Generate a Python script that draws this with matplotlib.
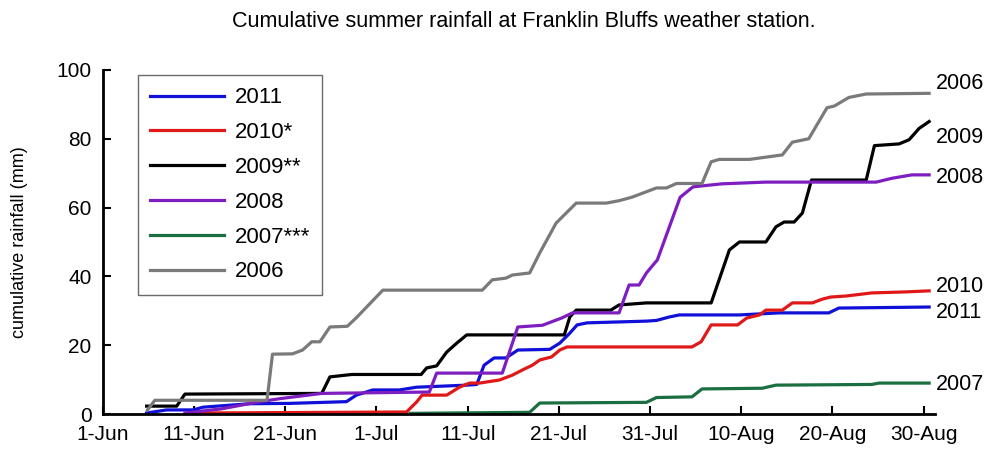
import matplotlib.pyplot as plt

plt.rcParams['font.family'] = ['Liberation Sans', 'DejaVu Sans']

# days since 1-Jun, cumulative rainfall (mm)
day_2011 = [4.8, 7.0, 9.9, 11.0, 16.1, 20.5, 26.7, 27.8, 29.6, 32.5, 34.4, 39.9, 41.0, 41.8, 42.9,
            44.2, 45.5, 49.0, 50.1, 51.2, 52.0, 53.1, 59.6, 60.7, 62.1, 63.2, 69.8, 74.2, 79.6, 80.7, 90.6]
rain_2011 = [0.3, 1.2, 1.2, 2.0, 3.0, 3.1, 3.6, 5.5, 7.0, 7.0, 7.8, 8.4, 8.6, 14.2, 16.3,
             16.3, 18.6, 18.8, 20.6, 23.5, 25.9, 26.5, 27.0, 27.2, 28.2, 28.8, 28.8, 29.4, 29.4, 30.8, 31.1]

day_2010 = [10.3, 33.3, 34.4, 35.0, 37.7, 39.1, 40.2, 41.3, 43.5, 44.9, 46.0, 47.1, 47.9, 49.2, 50.1,
            50.9, 64.6, 65.6, 66.7, 69.6, 70.6, 72.0, 72.7, 74.5, 75.6, 77.8, 78.9, 79.8, 81.5, 84.3, 88.1, 90.6]
rain_2010 = [0.3, 0.6, 3.5, 5.5, 5.5, 7.8, 9.0, 9.0, 9.9, 11.3, 12.8, 14.2, 15.7, 16.6, 18.6,
             19.5, 19.5, 21.0, 25.9, 25.9, 27.9, 28.8, 30.2, 30.2, 32.3, 32.3, 33.4, 34.0, 34.3, 35.2, 35.5, 35.8]

day_2009 = [4.8, 8.1, 9.0, 24.0, 24.9, 27.3, 34.9, 35.5, 36.6, 37.7, 38.8, 39.9, 50.6, 51.2, 51.9,
            55.7, 56.6, 59.6, 66.7, 68.7, 69.8, 72.7, 73.8, 74.7, 75.8, 76.7, 77.7, 83.7, 84.6, 87.3, 88.4, 89.5, 90.6]
rain_2009 = [2.3, 2.3, 5.8, 6.0, 10.8, 11.5, 11.5, 13.4, 14.0, 18.0, 20.6, 23.0, 23.0, 28.2, 30.2,
             30.2, 31.7, 32.3, 32.3, 47.7, 50.0, 50.0, 54.4, 55.8, 55.8, 58.4, 68.0, 68.0, 78.0, 78.5, 79.7, 83.0, 85.0]

day_2008 = [9.0, 13.0, 17.0, 19.5, 24.0, 35.8, 36.6, 43.8, 45.5, 48.2, 50.3, 51.5, 56.6, 57.7, 58.8,
            59.6, 60.8, 63.3, 64.7, 65.7, 67.9, 72.7, 84.8, 86.5, 88.7, 90.6]
rain_2008 = [0.3, 1.5, 3.5, 4.5, 6.0, 6.4, 11.9, 11.9, 25.3, 25.8, 27.9, 29.4, 29.4, 37.5, 37.5,
             41.0, 44.8, 63.0, 66.0, 66.3, 66.9, 67.4, 67.4, 68.5, 69.5, 69.5]

day_2007 = [33.7, 46.8, 47.9, 59.6, 60.7, 64.6, 65.7, 72.3, 73.8, 84.3, 85.1, 90.6]
rain_2007 = [0.2, 0.5, 3.2, 3.4, 4.8, 5.0, 7.3, 7.5, 8.4, 8.6, 9.0, 9.0]

day_2006 = [4.9, 5.7, 18.0, 18.6, 20.8, 21.9, 22.9, 23.8, 24.9, 26.8, 27.8, 30.7, 41.6, 42.7, 44.2,
            44.9, 46.8, 47.9, 49.7, 50.8, 51.9, 55.2, 56.6, 58.0, 60.7, 61.8, 62.9, 65.7, 66.7, 67.6,
            70.9, 74.5, 75.6, 77.4, 79.4, 80.2, 81.8, 83.7, 90.6]
rain_2006 = [1.2, 4.0, 4.0, 17.4, 17.5, 18.6, 21.0, 21.0, 25.3, 25.5, 28.0, 36.0, 36.0, 39.0, 39.5,
             40.4, 41.0, 46.8, 55.5, 58.4, 61.3, 61.3, 62.0, 63.0, 65.7, 65.7, 67.0, 67.0, 73.3, 74.0,
             74.0, 75.3, 79.0, 80.0, 89.0, 89.5, 92.0, 93.0, 93.2]

tick_days = [0, 10, 20, 30, 40, 50, 60, 70, 80, 90]
tick_labels = ["1-Jun", "11-Jun", "21-Jun", "1-Jul", "11-Jul", "21-Jul", "31-Jul", "10-Aug", "20-Aug", "30-Aug"]

end_labels = ["2006", "2009", "2008", "2010", "2011", "2007"]
end_label_y = [96.0, 80.5, 68.6, 37.2, 29.6, 8.7]

fig = plt.figure(figsize=(9.89, 4.54), dpi=100)
ax = fig.add_axes([0.104, 0.088, 0.841, 0.758])

lw = 2.3
ax.plot(day_2011, rain_2011, color="#1010d8", lw=lw, label="2011")
ax.plot(day_2010, rain_2010, color="#e01818", lw=lw, label="2010*")
ax.plot(day_2009, rain_2009, color="black", lw=lw, label="2009**")
ax.plot(day_2008, rain_2008, color="#7e1ec0", lw=lw, label="2008")
ax.plot(day_2007, rain_2007, color="#1a6e40", lw=lw, label="2007***")
ax.plot(day_2006, rain_2006, color="#7a7a7a", lw=lw, label="2006")

for lab, yv in zip(end_labels, end_label_y):
    ax.text(91.3, yv, lab, fontsize=15.5, va="center", ha="left", clip_on=False)

ax.set_xlim(0, 91.2)
ax.set_ylim(0, 100)
ax.set_xticks(tick_days)
ax.set_xticklabels(tick_labels)
ax.set_yticks([0, 20, 40, 60, 80, 100])
ax.tick_params(direction="in", length=6, width=1.5, labelsize=15, pad=8)
for s in ["top", "right"]:
    ax.spines[s].set_visible(False)
for s in ["left", "bottom"]:
    ax.spines[s].set_linewidth(2)

ax.set_ylabel("cumulative rainfall (mm)", fontsize=13)
ax.yaxis.set_label_coords(-0.09, 0.5)
fig.suptitle("Cumulative summer rainfall at Franklin Bluffs weather station.", fontsize=15.5, x=0.53, y=0.975)

leg = ax.legend(loc="upper left", bbox_to_anchor=(0.029, 1.017), fontsize=16, frameon=True,
                fancybox=False, edgecolor="#444444", handlelength=3.3, handletextpad=0.5,
                labelspacing=0.62, borderpad=0.55)
leg.get_frame().set_linewidth(1.0)

fig.savefig("out.png", dpi=100)
